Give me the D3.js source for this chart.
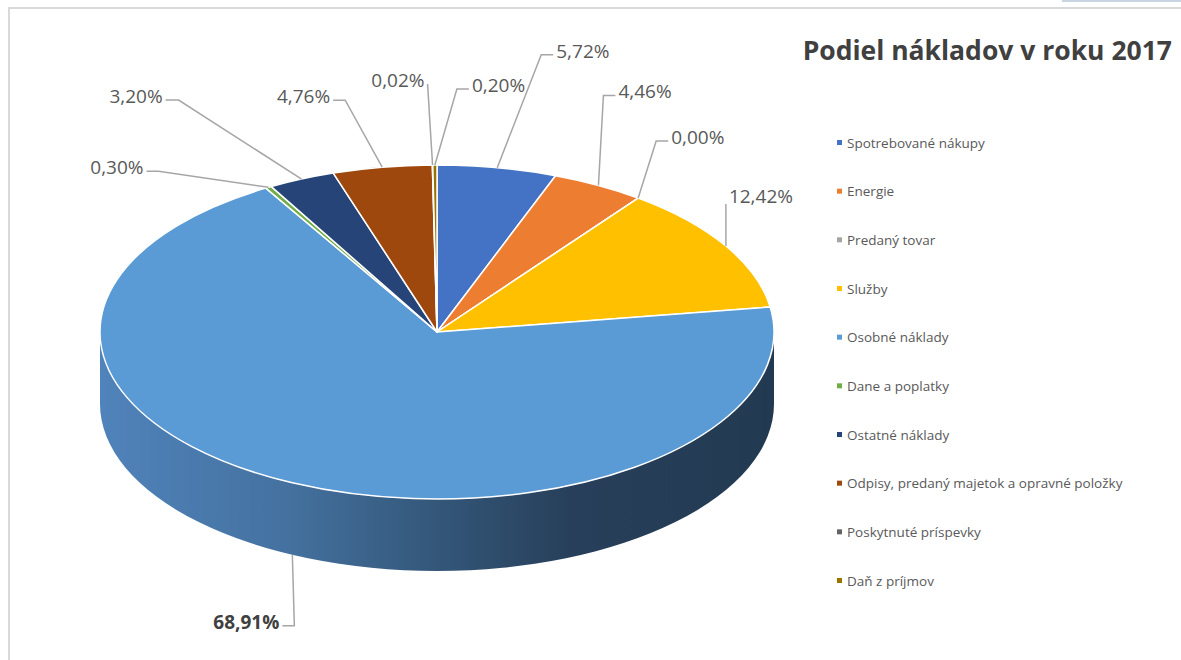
<!DOCTYPE html>
<html>
<head>
<meta charset="utf-8">
<script src="https://cdn.jsdelivr.net/npm/d3@7"></script>
<style>
  body { margin: 0; background: #fff; }
  svg { display: block; }
</style>
</head>
<body>
<svg id="chart" width="1181" height="660"></svg>
<script>
// Podiel nakladov v roku 2017 - data
var categories = ["Spotrebované nákupy", "Energie", "Predaný tovar", "Služby", "Osobné náklady",
                  "Dane a poplatky", "Ostatné náklady", "Odpisy, predaný majetok a opravné položky",
                  "Poskytnuté príspevky", "Daň z príjmov"];
var shares = [5.72, 4.46, 0.00, 12.42, 68.91, 0.30, 3.20, 4.76, 0.02, 0.20];
var colors = ["#4472C4", "#ED7D31", "#A5A5A5", "#FFC000", "#5B9BD5",
              "#70AD47", "#264478", "#9E480E", "#636363", "#997300"];
var title = "Podiel nákladov v roku 2017";

// label layout: elbow offset from anchor, horizontal tail, side
var labelLayout = [
  {dx: 44, dy: -113, tail: 12, side: "r"},
  {dx: 5, dy: -90, tail: 12, side: "r"},
  {dx: 18, dy: -57, tail: 12, side: "r"},
  {dx: 0, dy: -42, tail: 0, side: "r"},
  {dx: 2, dy: 71, tail: -12, side: "l"},
  {dx: -110, dy: -16, tail: -12, side: "l"},
  {dx: -123, dy: -79, tail: -13, side: "l"},
  {dx: -37, dy: -67, tail: -12, side: "l"},
  {dx: -5, dy: -81, tail: 0, side: "l"},
  {dx: 22, dy: -76, tail: 12, side: "r"}
];

var cx = 437, cy = 332, rx = 337, ry = 167, depth = 72;
var fmt = function(v) { return d3.format(".2f")(v).replace(".", ",") + "%"; };

var svg = d3.select("#chart");

// frame
svg.append("rect")
   .attr("x", 9).attr("y", 8)
   .attr("width", 1190).attr("height", 670)
   .attr("fill", "none")
   .attr("stroke", "#d9d9d9")
   .attr("stroke-width", 2);
svg.append("line")
   .attr("x1", 1062).attr("x2", 1181)
   .attr("y1", 1).attr("y2", 1)
   .attr("stroke", "#c9d4e2").attr("stroke-width", 2);

// gradient for the pie side
var defs = svg.append("defs");
var grad = defs.append("linearGradient")
               .attr("id", "sideGrad")
               .attr("gradientUnits", "userSpaceOnUse")
               .attr("x1", cx - rx).attr("x2", cx + rx)
               .attr("y1", 0).attr("y2", 0);
[[0, "#5083bb"], [0.28, "#44719f"], [0.48, "#35597c"], [0.7, "#273f5a"], [1, "#223a51"]]
  .forEach(function(s) {
      grad.append("stop").attr("offset", s[0]).attr("stop-color", s[1]);
  });

var pie = d3.pie().sort(null).value(function(d) { return d; });
var arcsData = pie(shares);

// side (front half belongs to Osobne naklady)
svg.append("path")
   .attr("d", "M" + (cx + rx) + "," + cy +
              " A" + rx + "," + ry + " 0 0 1 " + (cx - rx) + "," + cy +
              " L" + (cx - rx) + "," + (cy + depth) +
              " A" + rx + "," + ry + " 0 0 0 " + (cx + rx) + "," + (cy + depth) + " Z")
   .attr("fill", "url(#sideGrad)");

// top face
var arc = d3.arc().innerRadius(0).outerRadius(rx);
var topFace = svg.append("g")
             .attr("transform", "translate(" + cx + "," + cy + ") scale(1," + (ry / rx) + ")");
topFace.selectAll("path.slice")
   .data(arcsData)
   .enter()
   .append("path")
   .attr("class", "slice")
   .attr("d", arc)
   .attr("fill", function(d, i) { return colors[i]; })
   .attr("stroke", "#fff")
   .attr("stroke-width", 1.5)
   .attr("vector-effect", "non-scaling-stroke")
   .attr("stroke-linejoin", "round");

// data labels with leader lines
var labels = svg.append("g");
arcsData.forEach(function(d, i) {
    var a = (d.startAngle + d.endAngle) / 2;
    var ax = cx + rx * Math.sin(a);
    var ay = cy - ry * Math.cos(a);
    if (Math.cos(a) < 0) ay += depth;
    var L = labelLayout[i];
    var ex = ax + L.dx, ey = ay + L.dy;
    var tx = ex + L.tail;
    labels.append("polyline")
          .attr("points", [[ax, ay], [ex, ey], [tx, ey]].map(function(p) { return p.join(","); }).join(" "))
          .attr("fill", "none")
          .attr("stroke", "#a6a6a6")
          .attr("stroke-width", 1.5);
    var big = shares[i] === d3.max(shares);
    labels.append("text")
          .attr("x", L.side === "r" ? tx + 3 : tx - 3)
          .attr("y", L.tail === 0 && L.side === "r" ? ey - 1 : ey + 3)
          .attr("text-anchor", L.side === "r" ? "start" : "end")
          .attr("font-family", "'Open Sans', sans-serif")
          .attr("font-size", big ? 19 : 19)
          .attr("font-weight", big ? "bold" : "normal")
          .attr("fill", big ? "#404040" : "#595959")
          .text(fmt(shares[i]));
});

// title
svg.append("text")
   .attr("x", 1172).attr("y", 60)
   .attr("text-anchor", "end")
   .attr("font-family", "'Open Sans', sans-serif")
   .attr("font-weight", "bold")
   .attr("font-size", 26.5)
   .attr("fill", "#404040")
   .text(title);

// legend
var legendY = d3.scalePoint().domain(categories).range([143, 581]);
var leg = svg.append("g").selectAll("g")
             .data(categories)
             .enter()
             .append("g")
             .attr("transform", function(d) { return "translate(837," + legendY(d) + ")"; });
leg.append("rect")
   .attr("x", 0).attr("y", -3)
   .attr("width", 5).attr("height", 5)
   .attr("fill", function(d, i) { return colors[i]; });
leg.append("text")
   .attr("x", 10).attr("y", 4.5)
   .attr("font-family", "'Open Sans', sans-serif")
   .attr("font-size", 13.5)
   .attr("fill", "#595959")
   .text(function(d) { return d; });
</script>
</body>
</html>
